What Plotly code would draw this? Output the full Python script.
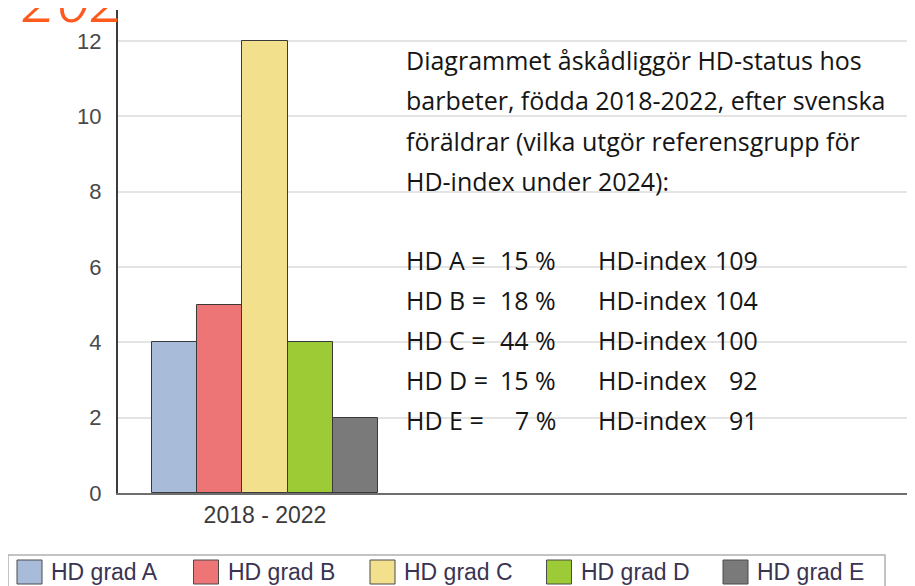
import plotly.graph_objects as go

# ---- data ----
period = ["2018 - 2022"]
grades = ["HD grad A", "HD grad B", "HD grad C", "HD grad D", "HD grad E"]
counts = [4, 5, 12, 4, 2]
colors = ["#A8BCD9", "#EE7575", "#F2E08C", "#9CCB35", "#7A7A7A"]
short = ["HD A =", "HD B =", "HD C =", "HD D =", "HD E ="]
percent = [15, 18, 44, 15, 7]
hd_index = [109, 104, 100, 92, 91]
intro_lines = [
    "Diagrammet åskådliggör HD-status hos",
    "barbeter, födda 2018-2022, efter svenska",
    "föräldrar (vilka utgör referensgrupp för",
    "HD-index under 2024):",
]

W, H = 915, 586
OFF = 8  # page body margin in the browser
# targets in page pixels
AX_X, AX_TOP, AX_BOT = 118, 10, 493
L = AX_X - OFF
T = AX_TOP - OFF
B = H - (AX_BOT - OFF)
R = 0
PW, PH = W - L - R, H - T - B


def px(x):  # page x -> paper
    return (x - OFF - L) / PW


def py(y):  # page y -> paper
    return (H - B - (y - OFF)) / PH


fig = go.Figure()
for g, c, col in zip(grades, counts, colors):
    fig.add_trace(go.Bar(
        x=period, y=[c], name=g, showlegend=False,
        marker=dict(color=col, line=dict(color="#3a3a3a", width=1)),
    ))

# x range so that group [-0.5, 0.5] spans page x 152..378
unit = 226.0
x0r = -0.5 - (152 - AX_X) / unit
x1r = x0r + PW / unit

ann = []
shapes = []
txtfont = dict(family="Open Sans, Lato, sans-serif", size=25, color="#151515")
for i, line in enumerate(intro_lines):
    ann.append(dict(x=px(404), y=py(60 + 40.3 * i), xref="paper", yref="paper",
                    text=line, showarrow=False, xanchor="left", yanchor="middle",
                    font=txtfont))
for i in range(len(short)):
    yy = py(260 + 40 * i)
    ann.append(dict(x=px(404), y=yy, xref="paper", yref="paper", text=short[i],
                    showarrow=False, xanchor="left", yanchor="middle", font=txtfont))
    ann.append(dict(x=px(558), y=yy, xref="paper", yref="paper", text=f"{percent[i]} %",
                    showarrow=False, xanchor="right", yanchor="middle", font=txtfont))
    ann.append(dict(x=px(596), y=yy, xref="paper", yref="paper", text="HD-index",
                    showarrow=False, xanchor="left", yanchor="middle", font=txtfont))
    ann.append(dict(x=px(760), y=yy, xref="paper", yref="paper", text=str(hd_index[i]),
                    showarrow=False, xanchor="right", yanchor="middle", font=txtfont))

# orange handwritten fragment at the top-left (cropped)
ann.append(dict(x=px(20), y=py(42), xref="paper", yref="paper", text="202",
                showarrow=False, xanchor="left", yanchor="bottom",
                font=dict(family="Noto Sans", size=62, color="#FF5A1E",
                          style="italic", weight=300)))

# legend drawn as a boxed row
legfont = dict(family="Liberation Sans, Arial, sans-serif", size=23, color="#3a3452")
shapes.append(dict(type="rect", xref="paper", yref="paper",
                   x0=px(8), x1=px(885), y0=py(555), y1=py(600),
                   line=dict(color="#b0b0b0", width=1.5), fillcolor="white", layer="above"))
for i, (g, col) in enumerate(zip(grades, colors)):
    x0 = 17 + 176.5 * i
    shapes.append(dict(type="rect", xref="paper", yref="paper",
                       x0=px(x0), x1=px(x0 + 25), y0=py(560), y1=py(584),
                       line=dict(color="#4a4a4a", width=1), fillcolor=col, layer="above"))
    ann.append(dict(x=px(x0 + 32), y=py(572), xref="paper", yref="paper", text=g,
                    showarrow=False, xanchor="left", yanchor="middle", font=legfont))

narrow = "Liberation Sans, Arial, sans-serif"

fig.update_layout(
    width=W, height=H,
    margin=dict(l=L, r=R, t=T, b=B, pad=0, autoexpand=False),
    paper_bgcolor="white", plot_bgcolor="white",
    barmode="group", bargap=0, bargroupgap=0,
    xaxis=dict(
        range=[x0r, x1r], showgrid=False, showline=True, linecolor="#6e6e6e",
        linewidth=2, ticks="", tickfont=dict(family=narrow, size=23, color="#3a3a3a"),
        zeroline=False, fixedrange=True, automargin=False,
    ),
    yaxis=dict(
        range=[0, 12 * (AX_BOT - AX_TOP) / (493 - 41)], tickvals=[0, 2, 4, 6, 8, 10, 12],
        showgrid=True, gridcolor="#e4e4e4", gridwidth=2, showline=True,
        linecolor="#3c3c3c", linewidth=2, ticks="", ticklabelstandoff=10,
        automargin=False, tickfont=dict(family=narrow, size=22, color="#4a4a4a"),
        zeroline=False,
    ),
    showlegend=False,
    annotations=ann,
    shapes=shapes,
)

fig.write_html("out.html")
